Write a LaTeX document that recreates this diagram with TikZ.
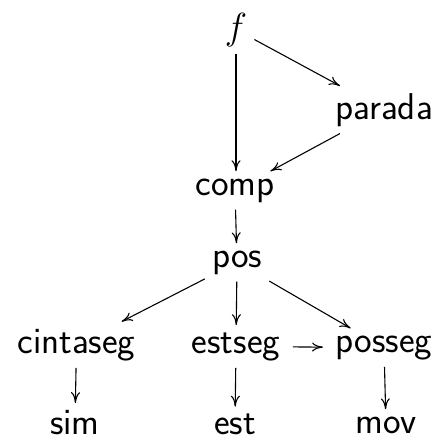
\documentclass[tikz,border=0pt]{standalone}
\usetikzlibrary{arrows.meta}
\begin{document}
\begin{tikzpicture}[x=0.5495pt,y=-0.5495pt,
  obj/.style={anchor=base,inner sep=3.8pt,font=\fontsize{20.5}{24}\selectfont\sffamily},
  arr/.style={line width=0.6pt,-{To[length=6pt,width=5pt]}}]
\useasboundingbox (0,0) rectangle (441,439);
% objects
\node[obj] (f)        at (236,39)  {$f$};
\node[obj] (parada)   at (384,119) {parada};
\node[obj] (comp)     at (235,195) {comp};
\node[obj] (pos)      at (237,267) {pos};
\node[obj] (cintaseg) at (76.5,353) {cintaseg};
\node[obj] (estseg)   at (236,353) {estseg};
\node[obj] (posseg)   at (384,352) {posseg};
\node[obj] (sim)      at (75,434.5)  {sim};
\node[obj] (est)      at (235,434.5) {est};
\node[obj] (mov)      at (386,433) {mov};
% arrows
\draw[arr] (f.south) -- (f.south |- comp.north);
\draw[arr] (f) -- (parada);
\draw[arr] (parada) -- (comp);
\draw[arr] (comp) -- (pos);
\draw[arr] (pos) -- (cintaseg);
\draw[arr] (pos) -- (estseg);
\draw[arr] (pos) -- (posseg);
\draw[arr,shorten <=3pt,shorten >=3pt] (estseg) -- (posseg);
\draw[arr] (cintaseg) -- (sim);
\draw[arr] (estseg) -- (est);
\draw[arr] (posseg) -- (mov);
\end{tikzpicture}
\end{document}
